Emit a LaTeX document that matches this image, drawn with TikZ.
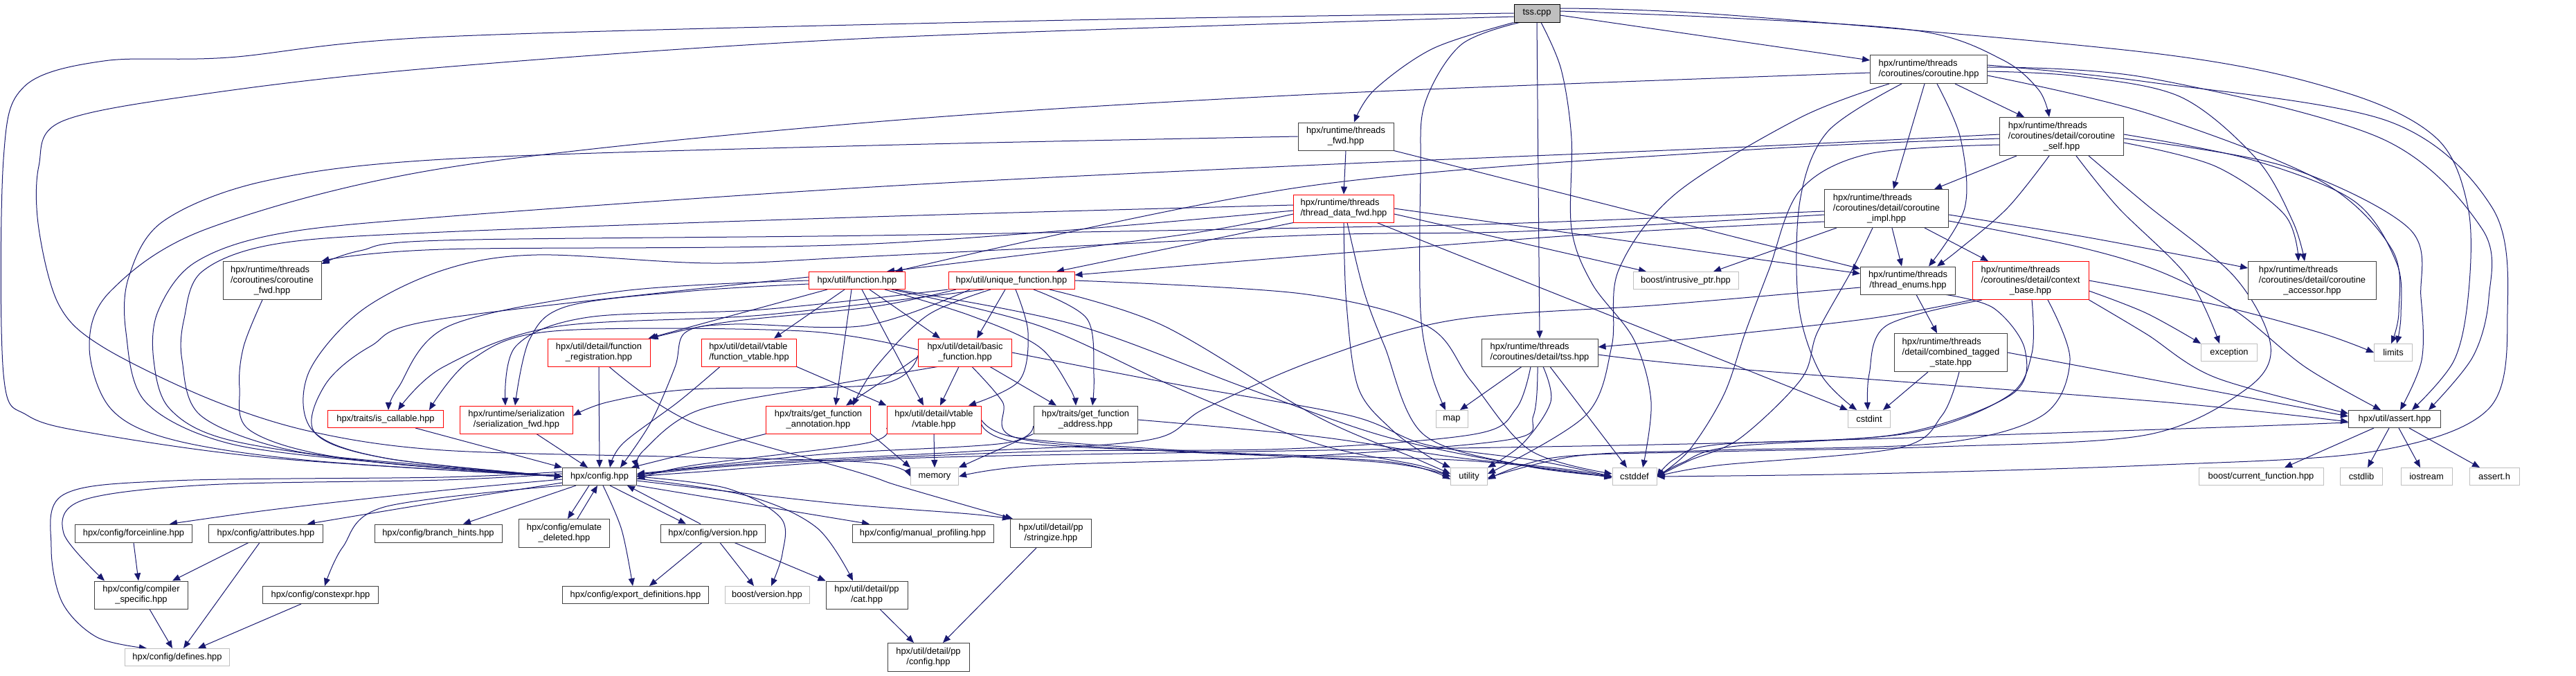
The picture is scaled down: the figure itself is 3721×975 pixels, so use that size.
\documentclass[tikz,border=0pt]{standalone}
\usepackage{fontspec}
\setmainfont{Liberation Sans}
\usetikzlibrary{arrows.meta}
\definecolor{edgecol}{HTML}{191970}
\definecolor{rootfill}{HTML}{BFBFBF}
\definecolor{lightbd}{HTML}{BFBFBF}
\definecolor{redbd}{HTML}{FF0000}
\definecolor{boxbd}{HTML}{404040}
\newcommand{\twol}[2]{\begin{tabular}{@{}l@{}}#1\\\multicolumn{1}{@{}c@{}}{#2}\end{tabular}}
\newcommand{\threel}[3]{\begin{tabular}{@{}l@{}}#1\\#2\\\multicolumn{1}{@{}c@{}}{#3}\end{tabular}}
\pgfdeclarelayer{bglayer}
\pgfdeclarelayer{edgelayer}
\pgfsetlayers{bglayer,edgelayer,main}
\begin{document}
\begin{tikzpicture}[x=1pt,y=-1pt,
  hn/.style={draw=boxbd, fill=white, line width=1.0pt, inner sep=0pt, font=\fontsize{12.9}{15}\selectfont, text=black},
  redn/.style={hn, draw=redbd},
  lgt/.style={hn, draw=lightbd},
  rootn/.style={hn, draw=black, fill=rootfill},
  sz/.style 2 args={minimum width=#1pt, minimum height=#2pt},
  dep/.style={draw=edgecol, line width=1.0pt, -{Triangle[length=11pt,width=9pt]}},
  sm/.style={smooth, tension=0.55}]
\useasboundingbox (0,0) rectangle (3721,975);
\begin{pgfonlayer}{bglayer}
\fill[white] (0,0) rectangle (3721,975);
\end{pgfonlayer}
% ---------- nodes
\node[rootn, sz={66}{26}] (tsscpp) at (2220,19) {tss.cpp};
\node[hn, sz={138}{40}] (thrfwd) at (1944,197) {\twol{hpx/runtime/threads}{\_fwd.hpp}};
\node[redn, sz={145}{40}] (tdfwd) at (1941,301) {\twol{hpx/runtime/threads}{/thread\_data\_fwd.hpp}};
\node[lgt, sz={152}{25}] (intru) at (2435,405) {boost/intrusive\_ptr.hpp};
\node[hn, sz={168}{40}] (tsshpp) at (2224,509) {\twol{hpx/runtime/threads}{/coroutines/detail/tss.hpp}};
\node[lgt, sz={46}{25}] (map) at (2097,605) {map};
\node[lgt, sz={53}{25}] (utility) at (2122,688) {utility};
\node[lgt, sz={64}{25}] (cstddef) at (2361,688) {cstddef};
\node[hn, sz={169}{41}] (corohpp) at (2786,100) {\twol{hpx/runtime/threads}{/coroutines/coroutine.hpp}};
\node[hn, sz={179}{55}] (cself) at (2978,197) {\threel{hpx/runtime/threads}{/coroutines/detail/coroutine}{\_self.hpp}};
\node[hn, sz={179}{55}] (cimpl) at (2725,301) {\threel{hpx/runtime/threads}{/coroutines/detail/coroutine}{\_impl.hpp}};
\node[hn, sz={137}{40}] (tenums) at (2756,405) {\twol{hpx/runtime/threads}{/thread\_enums.hpp}};
\node[redn, sz={168}{55}] (cbase) at (2933,405) {\threel{hpx/runtime/threads}{/coroutines/detail/context}{\_base.hpp}};
\node[hn, sz={163}{55}] (cts) at (2818,509) {\threel{hpx/runtime/threads}{/detail/combined\_tagged}{\_state.hpp}};
\node[lgt, sz={61}{25}] (cstdint) at (2700,605) {cstdint};
\node[hn, sz={185}{55}] (caccess) at (3340,405) {\threel{hpx/runtime/threads}{/coroutines/detail/coroutine}{\_accessor.hpp}};
\node[lgt, sz={81}{25}] (exception) at (3220,509) {exception};
\node[lgt, sz={55}{25}] (limits) at (3457,509) {limits};
\node[hn, sz={133}{25}] (assert) at (3459,605) {hpx/util/assert.hpp};
\node[lgt, sz={180}{25}] (curfunc) at (3266,688) {boost/current\_function.hpp};
\node[lgt, sz={61}{25}] (cstdlib) at (3411,688) {cstdlib};
\node[lgt, sz={74}{25}] (iostream) at (3505,688) {iostream};
\node[lgt, sz={72}{25}] (asserth) at (3603,688) {assert.h};
\node[hn, sz={142}{55}] (cfwd) at (393,405) {\threel{hpx/runtime/threads}{/coroutines/coroutine}{\_fwd.hpp}};
\node[redn, sz={139}{25}] (function) at (1238,405) {hpx/util/function.hpp};
\node[redn, sz={182}{25}] (ufunction) at (1461,405) {hpx/util/unique\_function.hpp};
\node[redn, sz={148}{40}] (freg) at (865,509) {\twol{hpx/util/detail/function}{\_registration.hpp}};
\node[redn, sz={137}{40}] (fvtable) at (1082,509) {\twol{hpx/util/detail/vtable}{/function\_vtable.hpp}};
\node[redn, sz={135}{40}] (basic) at (1394,509) {\twol{hpx/util/detail/basic}{\_function.hpp}};
\node[redn, sz={167}{25}] (iscall) at (557,605) {hpx/traits/is\_callable.hpp};
\node[redn, sz={163}{40}] (serfwd) at (746,606) {\twol{hpx/runtime/serialization}{/serialization\_fwd.hpp}};
\node[redn, sz={151}{40}] (annot) at (1182,606) {\twol{hpx/traits/get\_function}{\_annotation.hpp}};
\node[redn, sz={136}{40}] (vtable) at (1349,606) {\twol{hpx/util/detail/vtable}{/vtable.hpp}};
\node[hn, sz={150}{40}] (address) at (1568,606) {\twol{hpx/traits/get\_function}{\_address.hpp}};
\node[hn, sz={107}{25}] (config) at (866,688) {hpx/config.hpp};
\node[lgt, sz={69}{25}] (memory) at (1350,688) {memory};
\node[hn, sz={169}{26}] (forceinline) at (193,770) {hpx/config/forceinline.hpp};
\node[hn, sz={165}{26}] (attributes) at (384,770) {hpx/config/attributes.hpp};
\node[hn, sz={184}{26}] (branch) at (633,770) {hpx/config/branch\_hints.hpp};
\node[hn, sz={131}{41}] (emulate) at (815,770) {\twol{hpx/config/emulate}{\_deleted.hpp}};
\node[hn, sz={151}{26}] (version) at (1030,770) {hpx/config/version.hpp};
\node[hn, sz={204}{26}] (manual) at (1333,770) {hpx/config/manual\_profiling.hpp};
\node[hn, sz={117}{41}] (stringize) at (1518,770) {\twol{hpx/util/detail/pp}{/stringize.hpp}};
\node[hn, sz={135}{40}] (compiler) at (204,859) {\twol{hpx/config/compiler}{\_specific.hpp}};
\node[hn, sz={167}{25}] (constexpr) at (463,859) {hpx/config/constexpr.hpp};
\node[hn, sz={211}{25}] (export) at (918,859) {hpx/config/export\_definitions.hpp};
\node[lgt, sz={122}{25}] (bversion) at (1108,859) {boost/version.hpp};
\node[hn, sz={118}{40}] (cat) at (1252,859) {\twol{hpx/util/detail/pp}{/cat.hpp}};
\node[lgt, sz={151}{25}] (defines) at (256,949) {hpx/config/defines.hpp};
\node[hn, sz={118}{41}] (ppconfig) at (1341,949) {\twol{hpx/util/detail/pp}{/config.hpp}};
% ---------- edges
\begin{pgfonlayer}{edgelayer}
% tss.cpp
\draw[dep] plot[sm] coordinates {(tsscpp.west) (1500,30) (640,53) (330,83) (150,88) (35,125) (5,230) (5,540) (40,600) (143,627) (400,662) (config.west)};
\draw[dep] plot[sm] coordinates {([yshift=-5pt]tsscpp.west) (1260,55) (640,97) (300,135) (90,175) (56,240) (56,330) (85,440) (147,500) (300,575) (449,623) (640,650) (1000,660) (1260,668) (memory.west)};
\draw[dep] plot[sm] coordinates {(tsscpp.south west) (2070,70) (1985,130) ([xshift=12pt]thrfwd.north)};
\draw[dep] plot[sm] coordinates {([xshift=-25pt]tsscpp.south) (2110,65) (2058,150) (2052,250) (2052,450) (2068,540) ([xshift=-9pt]map.north)};
\draw[dep] (tsscpp.south) -- (tsshpp.north);
\draw[dep] plot[sm] coordinates {([xshift=6pt]tsscpp.south) (2255,100) (2270,200) (2270,330) (2300,410) (2360,490) (2385,580) ([xshift=12pt]cstddef.north)};
\draw[dep] ([yshift=-3pt]tsscpp.east) -- ([yshift=13pt]corohpp.west);
\draw[dep] plot[sm] coordinates {([yshift=3pt]tsscpp.east) (2500,26) (2774,45) (2892,86) (2945,130) ([xshift=-18pt]cself.north)};
\draw[dep] plot[sm] coordinates {([yshift=7pt]tsscpp.east) (2500,22) (3120,78) (3386,133) (3520,200) (3565,300) (3566,420) (3545,520) ([xshift=25pt]assert.north)};
% coroutine.hpp
\draw[dep] plot[sm] coordinates {([yshift=-5pt]corohpp.west) (1880,137) (1240,178) (640,243) (300,330) (160,420) (129,500) (160,590) (250,635) (450,665) (config.west)};
\draw[dep] ([xshift=-6pt]corohpp.south) -- ([xshift=10pt]cimpl.north);
\draw[dep] ([xshift=38pt]corohpp.south) -- ([xshift=-54pt]cself.north);
\draw[dep] plot[sm] coordinates {([xshift=12pt]corohpp.south) (2832,200) (2838,300) ([xshift=30pt]tenums.north)};
\draw[dep] plot[sm] coordinates {([xshift=-57pt]corohpp.south) (2600,170) (2420,280) (2338,390) (2328,500) (2290,600) ([yshift=4pt]utility.east)};
\draw[dep] plot[sm] coordinates {([xshift=-39pt]corohpp.south) (2640,190) (2600,290) (2598,440) (2630,540) ([xshift=-18pt]cstdint.north)};
\draw[dep] plot[sm] coordinates {([yshift=-3pt]corohpp.east) (3000,110) (3150,140) (3260,230) (3312,320) ([xshift=-11pt]caccess.north)};
\draw[dep] plot[sm] coordinates {([yshift=-9pt]corohpp.east) (3100,163) (3350,260) (3455,360) (3465,450) ([xshift=-3pt]limits.north)};
\draw[dep] plot[sm] coordinates {([yshift=3pt]corohpp.east) (3100,112) (3440,200) (3585,330) (3595,430) (3572,515) ([xshift=49pt]assert.north)};
\draw[dep] plot[sm] coordinates {([yshift=6pt]corohpp.east) (3100,118) (3450,175) (3600,300) (3622,450) (3595,590) (3427,652) (3100,672) (2700,684) (cstddef.east)};
% coroutine_self
\draw[dep] ([xshift=-65pt]cself.south) -- ([xshift=69pt]cimpl.north);
\draw[dep] plot[sm] coordinates {([xshift=-18pt]cself.south) (2900,300) (2830,360) ([xshift=42pt]tenums.north)};
\draw[dep] plot[sm] coordinates {([yshift=3pt]cself.west) (2500,213) (1860,240) (1260,270) (640,313) (400,338) (280,380) (228,450) (222,520) (245,590) (330,635) (550,668) (config.west)};
\draw[dep] plot[sm] coordinates {([yshift=-3pt]cself.west) (2500,218) (1880,270) ([xshift=55pt]function.north)};
\draw[dep] plot[sm] coordinates {([yshift=3pt]cself.east) (3250,230) (3400,290) (3462,380) (3468,455) ([xshift=5pt]limits.north)};
\draw[dep] plot[sm] coordinates {([yshift=-3pt]cself.east) (3300,240) (3480,330) (3497,430) (3498,520) ([xshift=8pt]assert.north)};
\draw[dep] plot[sm] coordinates {([yshift=-9pt]cself.east) (3200,240) (3300,310) ([xshift=-20pt]caccess.north)};
\draw[dep] plot[sm] coordinates {([xshift=21pt]cself.south) (3060,300) (3160,400) ([xshift=-14pt]exception.north)};
\draw[dep] plot[sm] coordinates {([xshift=39pt]cself.south) (3100,295) (3228,400) (3280,500) (3243,563) (3100,628) (2800,645) (2480,652) (2250,660) ([yshift=-4pt]utility.east)};
\draw[dep] plot[sm] coordinates {([yshift=-12pt]cself.west) (2700,222) (2600,275) (2555,390) (2521,480) (2490,570) (2440,650) (cstddef.east)};
% coroutine_impl
\draw[dep] ([xshift=8pt]cimpl.south) -- ([xshift=-9pt]tenums.north);
\draw[dep] ([xshift=55pt]cimpl.south) -- ([xshift=-61pt]cbase.north);
\draw[dep] ([xshift=-72pt]cimpl.south) -- ([xshift=40pt]intru.north);
\draw[dep] plot[sm] coordinates {([yshift=-4pt]cimpl.west) (2200,322) (1941,328) (1260,340) (640,347) (520,362) ([yshift=-4pt]cfwd.north east)};
\draw[dep] plot[sm] coordinates {([yshift=-9pt]cimpl.west) (2200,334) (1880,340) (1260,370) (1028,380) (775,368) (640,390) (520,450) (445,540) (452,622) (560,662) (config.west)};
\draw[dep] plot[sm] coordinates {([yshift=-19pt]cimpl.west) (2300,338) (1880,370) ([yshift=8pt]ufunction.east)};
\draw[dep] plot[sm] coordinates {([xshift=-20pt]cimpl.south) (2675,390) (2625,480) (2602,547) (2513,633) (2440,665) (cstddef.east)};
\draw[dep] plot[sm] coordinates {([yshift=-9pt]cimpl.east) (3000,340) (3150,368) ([yshift=18pt]caccess.west)};
\draw[dep] plot[sm] coordinates {([yshift=-18pt]cimpl.east) (3000,356) (3120,392) (3228,448) (3330,530) ([xshift=-20pt]assert.north)};
% thread_enums
\draw[dep] ([xshift=12pt]tenums.south) -- ([xshift=-20pt]cts.north);
\draw[dep] plot[sm] coordinates {([yshift=-10pt]tenums.west) (2400,440) (2100,462) (1900,520) (1740,590) (1660,635) (1400,652) (1100,668) ([yshift=4pt]config.east)};
\draw[dep] plot[sm] coordinates {([xshift=55pt]tenums.south) (2880,445) (2925,505) (2905,570) (2741,627) (2480,642) (2420,662) (cstddef.east)};
% context_base
\draw[dep] plot[sm] coordinates {(cbase.south west) (2700,460) (2450,488) ([yshift=8pt]tsshpp.east)};
\draw[dep] plot[sm] coordinates {(cbase.east) (3200,440) (3350,480) (limits.west)};
\draw[dep] plot[sm] coordinates {([yshift=-15pt]cbase.east) (3100,452) (exception.north west)};
\draw[dep] plot[sm] coordinates {(cbase.south east) (3100,482) (3200,545) ([yshift=8pt]assert.west)};
\draw[dep] plot[sm] coordinates {([xshift=-70pt]cbase.south) (2725,470) (2700,540) ([xshift=-2pt]cstdint.north)};
\draw[dep] plot[sm] coordinates {([xshift=2pt]cbase.south) (2935,510) (2900,572) (2760,625) (2500,645) (2430,668) (cstddef.east)};
\draw[dep] plot[sm] coordinates {([xshift=25pt]cbase.south) (2990,520) (2950,600) (2800,640) (2480,650) (2280,658) ([yshift=-2pt]utility.east)};
% combined_tagged_state
\draw[dep] ([xshift=-33pt]cts.south) -- ([xshift=20pt]cstdint.north);
\draw[dep] (cts.east) -- ([yshift=4pt]assert.west);
\draw[dep] plot[sm] coordinates {([xshift=12pt]cts.south) (2805,600) (2741,647) (2480,672) (cstddef.east)};
% tss.hpp
\draw[dep] ([xshift=-26pt]tsshpp.south) -- ([xshift=12pt]map.north);
\draw[dep] plot[sm] coordinates {([xshift=-13pt]tsshpp.south) (2190,590) (2129,627) (1860,648) (1500,652) (1100,670) ([yshift=2pt]config.east)};
\draw[dep] plot[sm] coordinates {([xshift=-3pt]tsshpp.south) (2215,600) (2178,635) (1860,660) (1500,672) (memory.east)};
\draw[dep] plot[sm] coordinates {([xshift=5pt]tsshpp.south) (2240,580) (2200,640) (utility.north east)};
\draw[dep] ([xshift=15pt]tsshpp.south) -- ([xshift=-11pt]cstddef.north);
\draw[dep] plot[sm] coordinates {([yshift=-3pt]tsshpp.east) (2500,532) (3120,580) ([yshift=-4pt]assert.west)};
% threads_fwd
\draw[dep] (thrfwd.south) -- (tdfwd.north);
\draw[dep] (thrfwd.south east) -- ([yshift=17pt]tenums.west);
\draw[dep] plot[sm] coordinates {(thrfwd.west) (1260,210) (640,230) (380,262) (235,320) (186,400) (182,480) (210,580) (330,640) (550,668) (config.west)};
% thread_data_fwd
\draw[dep] plot[sm] coordinates {([yshift=5pt]tdfwd.west) (1260,313) (640,335) (400,352) (292,392) (266,460) (263,520) (290,600) (420,650) (620,672) (config.west)};
\draw[dep] plot[sm] coordinates {([yshift=-3pt]tdfwd.west) (1260,352) (640,360) (cfwd.north east)};
\draw[dep] plot[sm] coordinates {([yshift=-8pt]tdfwd.west) (1700,340) ([xshift=43pt]function.north)};
\draw[dep] (tdfwd.south west) -- ([xshift=65pt]ufunction.north);
\draw[dep] (tdfwd.east) -- ([yshift=10pt]tenums.west);
\draw[dep] ([yshift=-8pt]tdfwd.east) -- ([xshift=-57pt]intru.north);
\draw[dep] ([xshift=48pt]tdfwd.south) -- (cstdint.north west);
\draw[dep] plot[sm] coordinates {([xshift=5pt]tdfwd.south) (1970,420) (2000,500) (2056,627) (2200,672) (cstddef.west)};
\draw[dep] plot[sm] coordinates {(tdfwd.south) (1945,440) (1962,560) (2010,620) (2062,658) (utility.north west)};
% coroutine_fwd
\draw[dep] plot[sm] coordinates {([xshift=-14pt]cfwd.south) (352,500) (346,560) (362,622) (500,662) (config.west)};
% function
\draw[dep] ([xshift=-43pt]function.south) -- ([xshift=-3pt]freg.north east);
\draw[dep] ([xshift=-18pt]function.south) -- ([xshift=36pt]fvtable.north);
\draw[dep] ([xshift=18pt]function.south) -- ([xshift=-36pt]basic.north);
\draw[dep] ([xshift=7pt]function.south) -- ([xshift=-15pt]vtable.north);
\draw[dep] ([xshift=-8pt]function.south) -- ([xshift=25pt]annot.north);
\draw[dep] plot[sm] coordinates {([xshift=40pt]function.south) (1400,455) (1500,500) (1545,560) ([xshift=-14pt]address.north)};
\draw[dep] plot[sm] coordinates {(function.west) (900,420) (650,470) (575,560) ([xshift=4pt]iscall.north)};
\draw[dep] plot[sm] coordinates {([yshift=-5pt]function.west) (1000,420) (820,442) (765,490) ([xshift=-2pt]serfwd.north)};
\draw[dep] plot[sm] coordinates {([yshift=5pt]function.west) (640,460) (535,500) (470,555) (455,625) (560,662) (config.west)};
\draw[dep] plot[sm] coordinates {([xshift=50pt]function.south) (1500,470) (1700,560) (1900,640) (2050,672) (utility.west)};
\draw[dep] plot[sm] coordinates {([xshift=55pt]function.south) (1550,468) (1800,560) (2000,630) (2200,672) (cstddef.west)};
% unique_function
\draw[dep] plot[sm] coordinates {([xshift=-80pt]ufunction.south) (1260,443) (1050,465) (freg.north east)};
\draw[dep] ([xshift=-9pt]ufunction.south) -- ([xshift=17pt]basic.north);
\draw[dep] plot[sm] coordinates {([xshift=6pt]ufunction.south) (1485,480) (1472,550) ([xshift=50pt]vtable.north)};
\draw[dep] plot[sm] coordinates {([xshift=32pt]ufunction.south) (1570,460) (1580,540) ([xshift=10pt]address.north)};
\draw[dep] plot[sm] coordinates {([xshift=-30pt]ufunction.south) (1340,455) (1265,530) ([xshift=50pt]annot.north)};
\draw[dep] plot[sm] coordinates {([xshift=-40pt]ufunction.south) (1100,455) (800,472) (640,530) ([xshift=18pt]iscall.north)};
\draw[dep] plot[sm] coordinates {(ufunction.south west) (1100,447) (850,458) (745,500) ([xshift=-16pt]serfwd.north)};
\draw[dep] plot[sm] coordinates {([xshift=-60pt]ufunction.south) (1250,470) (1060,468) (990,480) (975,530) (940,610) ([xshift=30pt]config.north)};
\draw[dep] plot[sm] coordinates {([xshift=55pt]ufunction.south) (1680,470) (1900,600) (2040,660) ([yshift=4pt]utility.west)};
\draw[dep] plot[sm] coordinates {(ufunction.east) (1880,424) (2060,470) (2125,550) (2210,650) ([yshift=4pt]cstddef.west)};
% basic_function
\draw[dep] ([xshift=-9pt]basic.south) -- ([xshift=9pt]vtable.north);
\draw[dep] ([xshift=36pt]basic.south) -- ([xshift=-42pt]address.north);
\draw[dep] plot[sm] coordinates {([yshift=-6pt]basic.west) (1290,540) ([xshift=40pt]annot.north)};
\draw[dep] plot[sm] coordinates {([yshift=4pt]basic.west) (1160,478) (800,478) (680,520) ([xshift=63pt]iscall.north)};
\draw[dep] plot[sm] coordinates {([yshift=-4pt]basic.west) (1270,555) (1000,562) (880,580) ([yshift=6pt]serfwd.east)};
\draw[dep] plot[sm] coordinates {([xshift=-40pt]basic.south) (1200,556) (1010,592) (930,650) (config.north east)};
\draw[dep] plot[sm] coordinates {([xshift=10pt]basic.south) (1448,580) (1468,632) (1700,652) (2000,666) ([yshift=-4pt]utility.west)};
\draw[dep] plot[sm] coordinates {(basic.east) (1700,555) (1950,600) (2060,642) (2220,665) (cstddef.west)};
% vtable
\draw[dep] (vtable.south) -- (memory.north);
\draw[dep] plot[sm] coordinates {([yshift=-12pt]vtable.west) (1250,640) (1000,672) ([yshift=-4pt]config.east)};
\draw[dep] plot[sm] coordinates {(vtable.east) (1470,632) (1700,650) (2000,668) (utility.west)};
\draw[dep] plot[sm] coordinates {([yshift=-6pt]vtable.east) (1480,640) (1800,655) (2100,664) (2250,678) ([yshift=-2pt]cstddef.west)};
% get_function_address
\draw[dep] (address.south west) -- (memory.north east);
\draw[dep] plot[sm] coordinates {([yshift=-9pt]address.west) (1450,640) (1200,655) (1000,675) ([yshift=2pt]config.east)};
\draw[dep] plot[sm] coordinates {(address.east) (1900,630) (2100,660) (2250,676) (cstddef.west)};
% get_function_annotation
\draw[dep] (annot.south west) -- ([xshift=-8pt]config.north east);
\draw[dep] (annot.south east) -- (memory.north west);
% function_registration
\draw[dep] (freg.south) -- (config.north);
\draw[dep] plot[sm] coordinates {([xshift=15pt]freg.south) (1000,610) (1240,682) (1300,702) ([xshift=4pt]stringize.north west)};
% function_vtable
\draw[dep] plot[sm] coordinates {([xshift=-42pt]fvtable.south) (980,580) (900,640) ([xshift=15pt]config.north)};
\draw[dep] (fvtable.south east) -- (vtable.north west);
% serialization_fwd, is_callable
\draw[dep] ([xshift=29pt]serfwd.south) -- ([xshift=-17pt]config.north);
\draw[dep] ([xshift=43pt]iscall.south) -- (config.north west);
% config
\draw[dep] plot[sm] coordinates {([yshift=-4pt]config.west) (640,708) (400,735) ([xshift=52pt]forceinline.north)};
\draw[dep] plot[sm] coordinates {([yshift=-9pt]config.west) (640,724) ([xshift=60pt]attributes.north)};
\draw[dep] plot[sm] coordinates {([yshift=4pt]config.west) (640,693) (300,700) (120,722) (92,770) ([xshift=-53pt]compiler.north)};
\draw[dep] plot[sm] coordinates {([yshift=7pt]config.west) (640,689) (250,694) (92,714) (74,790) (90,870) (140,920) ([xshift=-44pt]defines.north)};
\draw[dep] plot[sm] coordinates {(config.south west) (555,732) (495,790) ([xshift=6pt]constexpr.north)};
\draw[dep] ([xshift=-34pt]config.south) -- ([xshift=36pt]branch.north);
\draw[dep] ([xshift=-15pt]config.south) -- ([xshift=5pt]emulate.north);
\draw[dep] ([xshift=19pt]emulate.north) -- ([xshift=-3pt]config.south);
\draw[dep] plot[sm] coordinates {([xshift=5pt]config.south) (898,765) ([xshift=-4pt]export.north)};
\draw[dep] ([xshift=15pt]config.south) -- ([xshift=-39pt]version.north);
\draw[dep] ([xshift=-18pt]version.north) -- ([xshift=40pt]config.south);
\draw[dep] plot[sm] coordinates {(config.east) (1050,705) (1128,748) (1130,800) ([xshift=6pt]bversion.north)};
\draw[dep] plot[sm] coordinates {([yshift=-3pt]config.east) (1080,716) (1180,762) ([xshift=-20pt]cat.north)};
\draw[dep] (config.south east) -- ([xshift=-77pt]manual.north);
\draw[dep] plot[sm] coordinates {([yshift=-6pt]config.east) (1200,726) (1400,742) (stringize.north west)};
% lower config headers
\draw[dep] (forceinline.south) -- ([xshift=-4pt]compiler.north);
\draw[dep] ([xshift=-25pt]attributes.south) -- ([xshift=45pt]compiler.north);
\draw[dep] ([xshift=-9pt]attributes.south) -- ([xshift=9pt]defines.north);
\draw[dep] ([xshift=12pt]compiler.south) -- ([xshift=-7pt]defines.north);
\draw[dep] ([xshift=-28pt]constexpr.south) -- ([xshift=30pt]defines.north);
\draw[dep] ([xshift=-16pt]version.south) -- ([xshift=20pt]export.north);
\draw[dep] ([xshift=10pt]version.south) -- ([xshift=-19pt]bversion.north);
\draw[dep] ([xshift=31pt]version.south) -- (cat.north west);
\draw[dep] ([xshift=19pt]cat.south) -- ([xshift=-21pt]ppconfig.north);
\draw[dep] ([xshift=-21pt]stringize.south) -- ([xshift=21pt]ppconfig.north);
% assert
\draw[dep] ([xshift=-30pt]assert.south) -- ([xshift=34pt]curfunc.north);
\draw[dep] ([xshift=-8pt]assert.south) -- ([xshift=9pt]cstdlib.north);
\draw[dep] ([xshift=6pt]assert.south) -- ([xshift=-9pt]iostream.north);
\draw[dep] ([xshift=21pt]assert.south) -- ([xshift=-21pt]asserth.north);
\draw[dep] plot[sm] coordinates {([yshift=-5pt]assert.west) (3120,620) (2480,640) (1800,652) (1300,662) (1000,682) (config.east)};
\end{pgfonlayer}
\end{tikzpicture}
\end{document}
